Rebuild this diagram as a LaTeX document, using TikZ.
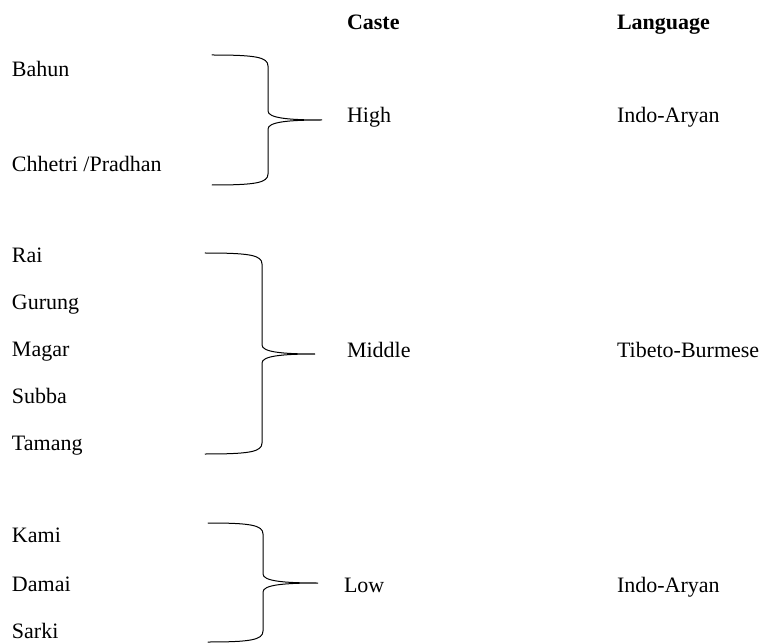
\documentclass[tikz,border=0pt]{standalone}
\usepackage{fontspec}
\setmainfont{Liberation Serif}
\usepackage{tikz}
\usetikzlibrary{
    calc,
    positioning
}
\newcommand{\bodysize}{\fontsize{22}{26}\selectfont}
\tikzset{
    item/.style={anchor=base west, inner sep=0pt, outer sep=0pt, font=\bodysize},
    head/.style={item, font=\bodysize\bfseries},
    brace line/.style={line width=1pt, line cap=round}
}
\newcommand{\grpbrace}[7]{
    \draw[brace line]
    (#1,#4) coordinate (#7top)
    .. controls (#2-13,#4) and (#2,#4+2) .. (#2,#4+11)
    -- (#2,#5-9)
    .. controls (#2,#5-2) and (#2+20,#5) .. (#3,#5) coordinate (#7tip)
    .. controls (#2+20,#5) and (#2,#5+2) .. (#2,#5+9)
    -- (#2,#6-11)
    .. controls (#2,#6-2) and (#2-13,#6) .. (#1,#6) coordinate (#7bot);
}

\begin{document}
\begin{tikzpicture}[x=1pt, y=-1pt]
                            \useasboundingbox (0, 0) rectangle (763, 644);
                            \node[head] (caste) at (347, 30) {Caste};
                            \node[head] (lang) at (617, 30) {Language};
                            \node[item] (bahun) at (12, 77) {Bahun};
                            \node[item] (chhetri) at (12, 172) {Chhetri /Pradhan};
                            \node[item] (rai) at (12, 263) {Rai};
                            \node[item] (gurung) at (12, 310) {Gurung};
                            \node[item] (magar) at (12, 356) {Magar};
                            \node[item] (subba) at (12, 403) {Subba};
                            \node[item] (tamang) at (12, 450) {Tamang};
                            \node[item] (kami) at (12, 542) {Kami};
                            \node[item] (damai) at (12, 591) {Damai};
                            \node[item] (sarki) at (12, 638) {Sarki};
                            \node[item] (high) at (347, 123) {High};
                            \node[item] (middle) at (347, 357) {Middle};
                            \node[item] (low) at (344, 592) {Low};
                            \node[item] (indoA) at (617, 123) {Indo-Aryan};
                            \node[item] (tibeto) at (617, 357) {Tibeto-Burmese};
                            \node[item] (indoB) at (617, 592) {Indo-Aryan};
                            \grpbrace{212}{268}{322}{55}{120}{185}{hi}
                            \grpbrace{205}{262}{315}{253}{354}{454}{mid}
                            \grpbrace{208}{263}{318}{523}{583}{642}{lo}
                        \end{tikzpicture}
\end{document}
